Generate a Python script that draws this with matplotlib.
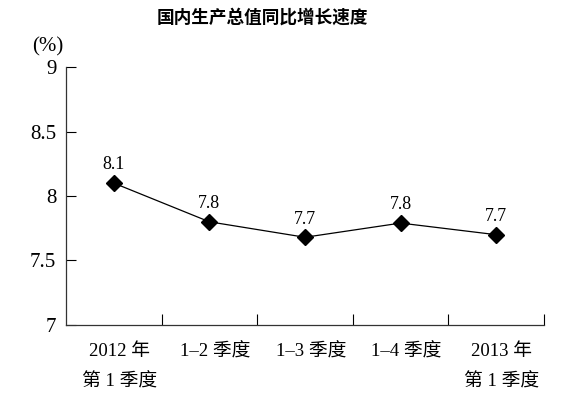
import matplotlib.pyplot as plt
import numpy as np

plt.rcParams['font.family'] = ['Liberation Serif', 'Noto Sans CJK SC']

categories = ["2012 年\n第 1 季度", "1–2 季度", "1–3 季度", "1–4 季度", "2013 年\n第 1 季度"]
values = [8.1, 7.8, 7.68, 7.79, 7.7]
labels = ["8.1", "7.8", "7.7", "7.8", "7.7"]
yticks = [7, 7.5, 8, 8.5, 9]
ytick_labels = ["7", "7.5", "8", "8.5", "9"]

fig = plt.figure(figsize=(5.65, 3.97), dpi=100)
ax = fig.add_axes([0.1168, 0.1814, 0.846, 0.6498])

x = np.arange(len(values))
ax.plot(x, values, color='black', linewidth=0.9, marker='D', markersize=8)

for xi, v, lab in zip(x, values, labels):
    ax.annotate(lab, (xi, v), xytext=(0, 7), textcoords='offset points',
                ha='center', va='bottom', fontsize=13)

ax.set_xlim(-0.5, len(values) - 0.5)
ax.set_ylim(7, 9)
ax.set_yticks(yticks)
ax.set_yticklabels(ytick_labels, fontsize=15)
ax.tick_params(axis='y', direction='in', length=7, width=0.8, pad=7)

# category boundaries as upward ticks on the bottom axis
ax.set_xticks(np.arange(len(values)) + 0.5)
ax.set_xticklabels([])
ax.tick_params(axis='x', direction='in', length=8, width=0.8)
for xi, cat in zip(x, categories):
    ax.text(xi + 0.06, -0.07, cat, transform=ax.get_xaxis_transform(), ha='center', va='top',
            fontsize=13.5, linespacing=2.0)

ax.spines['top'].set_visible(False)
ax.spines['right'].set_visible(False)
for s in ['left', 'bottom']:
    ax.spines[s].set_linewidth(0.9)
    ax.spines[s].set_color('#333333')

fig.text(0.084, 0.882, "(%)", fontsize=15, ha='center', va='center')
fig.text(0.464, 0.955, "国内生产总值同比增长速度", fontsize=12.7, fontweight='bold',
         ha='center', va='center', family=['Noto Sans CJK SC'])

fig.savefig("out.png", dpi=100)
